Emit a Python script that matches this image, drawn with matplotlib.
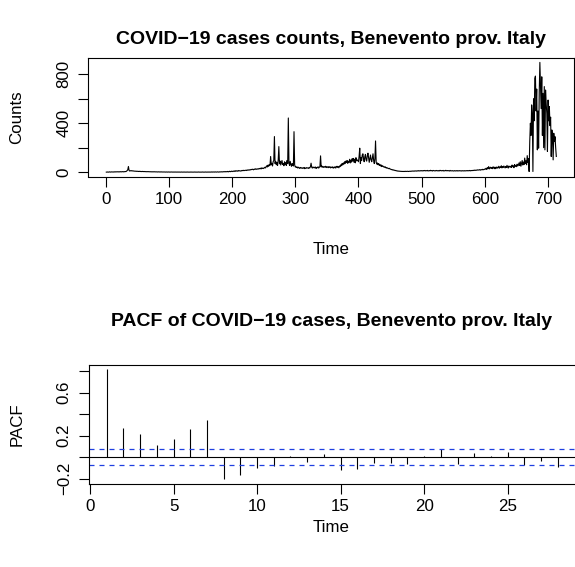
import numpy as np
import matplotlib
matplotlib.use("Agg")
import matplotlib.pyplot as plt

plt.rcParams['font.family'] = ['Liberation Sans', 'DejaVu Sans']

# ---- data: daily COVID-19 case counts ----
counts = [
    0,0,1,0,0,2,1,0,2,1,
    1,2,0,2,3,1,2,3,2,3,
    1,3,2,4,2,3,4,2,4,3,
    5,4,8,12,20,46,14,9,12,10,
    12,9,11,9,8,8,7,8,6,7,
    6,5,7,5,6,4,5,6,4,5,
    4,5,4,3,4,4,3,4,3,3,
    3,2,3,2,3,2,3,2,2,2,
    2,1,2,2,1,2,1,2,1,1,
    1,1,1,1,0,1,1,0,1,1,
    0,1,0,1,1,0,0,1,0,1,
    0,0,1,0,0,1,0,0,0,1,
    0,0,0,1,0,0,0,0,1,0,
    0,0,0,0,1,0,0,0,0,0,
    1,0,0,0,0,0,1,0,0,0,
    0,0,1,0,0,0,0,1,0,0,
    0,1,0,0,1,0,0,2,0,1,
    1,0,2,1,0,1,2,1,0,2,
    1,2,3,1,2,4,2,3,5,2,
    4,3,6,2,5,7,3,6,8,4,
    7,9,5,10,6,12,8,11,7,13,
    9,12,10,8,12,14,11,15,12,14,
    14,16,13,18,15,17,20,16,19,22,
    20,24,21,19,25,23,27,22,26,24,
    28,25,30,27,32,26,35,30,33,29,
    36,40,34,45,52,42,58,48,62,55,
    128,60,72,50,85,95,291,70,88,60,
    78,55,100,209,68,90,58,75,95,62,
    70,52,85,60,78,55,95,70,443,75,
    55,88,62,48,70,58,50,331,60,42,
    45,38,42,33,40,36,30,38,34,36,
    30,35,32,38,28,34,31,37,33,35,
    30,38,34,45,73,40,33,42,36,40,
    34,42,30,38,36,44,33,40,45,133,
    42,50,40,46,38,44,41,48,37,45,
    42,36,45,40,44,34,41,38,43,32,
    40,36,45,33,42,48,38,46,35,50,
    45,60,52,70,58,75,65,85,70,90,
    78,95,72,88,80,105,75,98,82,110,
    90,112,80,105,76,118,92,100,95,85,
    130,196,70,120,95,140,150,110,85,125,
    145,100,90,135,155,120,80,110,140,100,
    85,120,150,95,70,110,255,80,65,75,
    60,70,55,62,50,58,45,52,48,42,
    40,45,36,38,32,35,30,28,31,25,
    24,20,22,17,19,15,16,12,14,10,
    11,8,9,7,8,6,7,6,5,6,
    5,6,5,7,5,6,6,7,5,6,
    7,6,8,7,9,8,9,7,10,9,
    10,8,11,9,12,9,11,10,13,10,
    12,9,13,11,14,10,12,11,14,9,
    11,13,10,15,11,13,9,14,12,10,
    12,10,14,11,12,9,13,10,15,12,
    10,13,11,14,9,12,10,15,12,10,
    13,11,12,9,14,10,11,10,12,9,
    10,12,9,11,10,13,9,11,10,12,
    10,11,9,12,10,11,9,12,10,11,
    11,13,10,12,11,14,10,13,12,14,
    12,15,13,17,14,16,15,19,16,18,
    17,21,16,20,19,23,18,22,21,26,
    24,32,22,36,28,45,26,34,40,30,
    36,28,44,32,40,27,36,42,30,40,
    35,48,32,42,38,52,34,46,38,50,
    42,34,46,38,55,42,33,50,44,40,
    48,38,58,44,52,36,62,48,52,44,
    65,50,58,75,54,85,48,70,95,58,
    82,62,115,70,92,60,135,78,110,5,
    250,400,300,550,480,5,600,420,767,786,
    500,680,182,500,196,650,898,699,520,780,
    300,645,200,700,182,672,560,480,169,590,
    420,536,380,450,128,345,280,100,318,250,
    290,200,128,
]
time_idx = np.arange(1, len(counts) + 1)

# PACF values by lag
lags = list(range(1, 29))
pacf_vals = [0.815, 0.268, 0.212, 0.113, 0.169, 0.264, 0.344, -0.203,
             -0.163, -0.096, -0.077, 0.012, -0.046, 0.028, -0.123, -0.108,
             -0.050, -0.050, -0.062, 0.012, 0.077, -0.059, 0.037, 0.012,
             0.052, -0.071, -0.034, -0.087]
ci = 0.074

top_title = "COVID\u221219 cases counts, Benevento prov. Italy"
bot_title = "PACF of COVID\u221219 cases, Benevento prov. Italy"

# ---- figure ----
W, H = 575, 567
fig = plt.figure(figsize=(W / 100, H / 100), dpi=100)

def axes_px(l, r, t, b):
    return fig.add_axes([l / W, 1 - b / H, (r - l) / W, (b - t) / H])

FS = 12.2
TFS = 14.0
LW = 0.8

def style(ax):
    for s in ax.spines.values():
        s.set_linewidth(LW)
        s.set_color('black')
    ax.tick_params(direction='out', length=7.2, width=LW, labelsize=FS,
                   colors='black')
    ax.tick_params(axis='x', pad=4)
    ax.tick_params(axis='y', pad=5)

# top panel: time series
ax1 = axes_px(88.3, 574.3, 58.0, 176.5)
ax1.plot(time_idx, counts, color='black', lw=LW)
n = len(counts)
pad = 0.04 * (n - 1)
ax1.set_xlim(1 - pad, n + pad)
ymax = max(counts)
ax1.set_ylim(-0.04 * ymax, 1.04 * ymax)
ax1.set_xticks(range(0, 701, 100))
ax1.set_yticks(range(0, 801, 200))
ax1.set_yticklabels(['0', '', '400', '', '800'])
style(ax1)
for lab in ax1.get_yticklabels():
    lab.set_rotation(90)
    lab.set_va('center')

# bottom panel: PACF
ax2 = axes_px(88.7, 575.8, 365.0, 483.5)
ax2.vlines(lags, 0, pacf_vals, color='black', lw=LW)
ax2.axhline(0, color='black', lw=LW)
ax2.axhline(ci, color='#1f3fe0', lw=0.9, ls=(0, (4, 4)))
ax2.axhline(-ci, color='#1f3fe0', lw=0.9, ls=(0, (4, 4)))
ax2.set_xlim(-0.08, 29.08)
lo = min(min(pacf_vals), -ci)
hi = max(max(pacf_vals), ci)
rg = hi - lo
ax2.set_ylim(lo - 0.04 * rg, hi + 0.04 * rg)
ax2.set_xticks(range(0, 26, 5))
ax2.set_yticks([-0.2, 0.0, 0.2, 0.4, 0.6, 0.8])
ax2.set_yticklabels(['\u22120.2', '', '0.2', '', '0.6', ''])
style(ax2)
for lab in ax2.get_yticklabels():
    lab.set_rotation(90)
    lab.set_va('center')

# titles and axis labels at absolute pixel positions
def ftext(x, y, s, **kw):
    fig.text(x / W, 1 - y / H, s, ha='center', va='center', **kw)

ftext(331, 40, top_title, fontsize=TFS, fontweight='bold')
ftext(332, 322, bot_title, fontsize=TFS, fontweight='bold')
ftext(331, 250, "Time", fontsize=FS)
ftext(331, 528, "Time", fontsize=FS)
ftext(17, 117, "Counts", fontsize=FS, rotation=90)
ftext(17, 424, "PACF", fontsize=FS, rotation=90)

fig.savefig("out.png", dpi=100)
